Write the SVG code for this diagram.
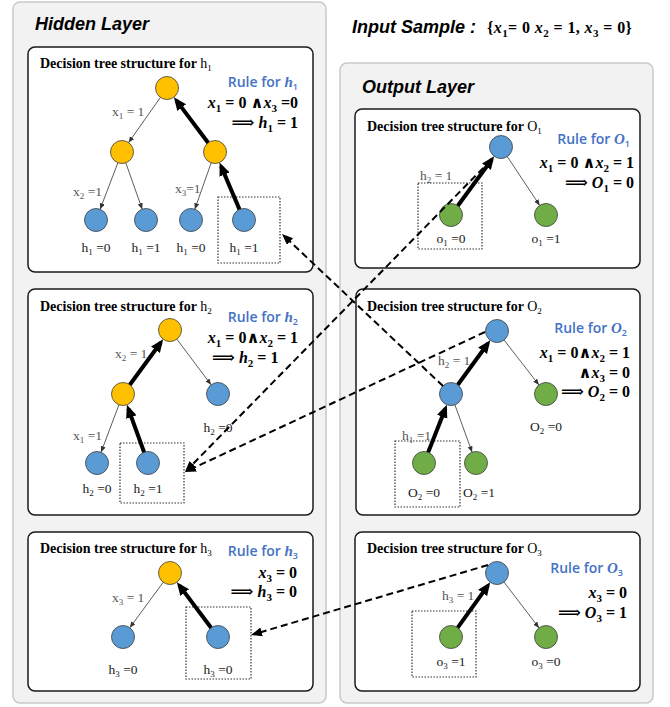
<svg xmlns="http://www.w3.org/2000/svg" width="670" height="707" viewBox="0 0 670 707">
<style>
.panel{fill:#f2f2f2;stroke:#c9c9c9;stroke-width:1.5}
.box{fill:#fff;stroke:#1a1a1a;stroke-width:1.5}
.sel{fill:none;stroke:#333;stroke-width:1.2;stroke-dasharray:1.5 1.5}
.or{fill:#FFC000;stroke:#404040;stroke-width:0.8}
.bl{fill:#5B9BD5;stroke:#404040;stroke-width:0.8}
.gr{fill:#70AD47;stroke:#404040;stroke-width:0.8}
.thin{stroke:#333;stroke-width:0.8;fill:none;marker-end:url(#aThin)}
.thick{stroke:#000;stroke-width:4;fill:none;marker-end:url(#aThick)}
.dash{stroke:#000;stroke-width:2;fill:none;stroke-dasharray:7 4;marker-end:url(#aDash)}
.layer{font-family:"Liberation Sans",Arial,sans-serif;font-weight:bold;font-style:italic;font-size:18px;fill:#000}
.ttl{font-family:"Liberation Serif","Times New Roman",serif;font-weight:bold;font-size:14px;fill:#000}
.n{font-weight:normal}
.rule{font-family:"Open Sans","Liberation Sans",sans-serif;font-weight:600;font-size:14px;fill:#4472C4}
.math{font-family:"Liberation Serif","DejaVu Serif",serif;font-weight:bold;font-size:16px;fill:#000}
.v{font-style:italic;font-weight:bold}
.lbl{font-family:"Liberation Serif","Times New Roman",serif;font-size:13.5px;fill:#222}
.el{font-family:"Liberation Serif","Times New Roman",serif;font-size:13.5px;fill:#555}
.s{font-size:9px;baseline-shift:-3px}
.sm{font-size:11px;baseline-shift:-4px}
</style>
<defs>
<marker id="aThin" markerUnits="userSpaceOnUse" markerWidth="7" markerHeight="6" refX="6" refY="2.5" orient="auto"><path d="M0,0 L6,2.5 L0,5 z" fill="#333"/></marker>
<marker id="aThick" markerUnits="userSpaceOnUse" markerWidth="14" markerHeight="12" refX="9" refY="5.5" orient="auto"><path d="M0,0 L13,5.5 L0,11 z" fill="#000"/></marker>
<marker id="aDash" markerUnits="userSpaceOnUse" markerWidth="12" markerHeight="10" refX="8" refY="4.5" orient="auto"><path d="M0,0 L11,4.5 L0,9 z" fill="#000"/></marker>
</defs>

<g id="hidden-layer">
<rect class="panel" x="13" y="2" width="313" height="701" rx="7"/>
<text class="layer" x="35" y="30">Hidden Layer</text>
</g>
<g id="output-layer">
<rect class="panel" x="340" y="63" width="313" height="640" rx="7"/>
<text class="layer" x="362" y="93">Output Layer</text>
</g>
<g id="input-sample">
<text class="layer" x="352" y="33">Input Sample :</text>
<text class="math" x="487" y="33" letter-spacing="0.4">{<tspan class="v">x</tspan><tspan class="sm">1</tspan>= 0 <tspan class="v">x</tspan><tspan class="sm">2</tspan> = 1, <tspan class="v">x</tspan><tspan class="sm">3</tspan> = 0}</text>
</g>

<!-- h1 -->
<g id="tree-h1">
<rect class="box" x="28" y="47" width="285" height="225" rx="7"/>
<text class="ttl" x="40" y="68">Decision tree structure for <tspan class="n">h</tspan><tspan class="n s">1</tspan></text>
<text class="rule" x="298" y="87" text-anchor="end">Rule for <tspan class="v" font-family="Liberation Serif,serif" font-size="15">h</tspan><tspan class="s">1</tspan></text>
<text class="math" x="298" y="108" text-anchor="end"><tspan class="v">x</tspan><tspan class="sm">1</tspan> = 0 ∧<tspan class="v">x</tspan><tspan class="sm">3</tspan> =0</text>
<text class="math" x="298" y="128" text-anchor="end">⟹ <tspan class="v">h</tspan><tspan class="sm">1</tspan> = 1</text>
<text class="el" x="112" y="116">x<tspan class="s">1</tspan> = 1</text>
<text class="el" x="73" y="196">x<tspan class="s">2</tspan> =1</text>
<text class="el" x="175" y="193">x<tspan class="s">3</tspan>=1</text>
<rect class="sel" x="218" y="197" width="62" height="66"/>
<g id="h1-root"><circle class="or" cx="167" cy="88" r="11.5"/></g>
<g id="h1-n1"><circle class="or" cx="122" cy="152" r="11.5"/></g>
<g id="h1-n2"><circle class="or" cx="215" cy="152" r="11.5"/></g>
<g id="h1-l1"><circle class="bl" cx="96" cy="220" r="11.5"/><text class="lbl" x="96" y="252" text-anchor="middle">h<tspan class="s">1</tspan> =0</text></g>
<g id="h1-l2"><circle class="bl" cx="146" cy="220" r="11.5"/><text class="lbl" x="146" y="252" text-anchor="middle">h<tspan class="s">1</tspan> =1</text></g>
<g id="h1-l3"><circle class="bl" cx="191" cy="220" r="11.5"/><text class="lbl" x="191" y="252" text-anchor="middle">h<tspan class="s">1</tspan> =0</text></g>
<g id="h1-l4"><circle class="bl" cx="244" cy="220" r="11.5"/><text class="lbl" x="244" y="252" text-anchor="middle">h<tspan class="s">1</tspan> =1</text></g>
</g>

<!-- h2 -->
<g id="tree-h2">
<rect class="box" x="28" y="289" width="285" height="226" rx="7"/>
<text class="ttl" x="40" y="311">Decision tree structure for <tspan class="n">h</tspan><tspan class="n s">2</tspan></text>
<text class="rule" x="298" y="322" text-anchor="end">Rule for <tspan class="v" font-family="Liberation Serif,serif" font-size="15">h</tspan><tspan class="s">2</tspan></text>
<text class="math" x="298" y="343" text-anchor="end"><tspan class="v">x</tspan><tspan class="sm">1</tspan> = 0∧<tspan class="v">x</tspan><tspan class="sm">2</tspan> = 1</text>
<text class="math" x="212" y="363">⟹ <tspan class="v">h</tspan><tspan class="sm">2</tspan> = 1</text>
<text class="el" x="115" y="358">x<tspan class="s">2</tspan> = 1</text>
<text class="el" x="73" y="440">x<tspan class="s">1</tspan> =1</text>
<rect class="sel" x="120" y="443" width="64" height="60"/>
<g id="h2-root"><circle class="or" cx="170" cy="330" r="11.5"/></g>
<g id="h2-n1"><circle class="or" cx="123" cy="394" r="11.5"/></g>
<g id="h2-l3"><circle class="bl" cx="218" cy="394" r="11.5"/><text class="lbl" x="218" y="432" text-anchor="middle">h<tspan class="s">2</tspan> =0</text></g>
<g id="h2-l1"><circle class="bl" cx="97" cy="463" r="11.5"/><text class="lbl" x="97" y="493" text-anchor="middle">h<tspan class="s">2</tspan> =0</text></g>
<g id="h2-l2"><circle class="bl" cx="148" cy="463" r="11.5"/><text class="lbl" x="148" y="493" text-anchor="middle">h<tspan class="s">2</tspan> =1</text></g>
</g>

<!-- h3 -->
<g id="tree-h3">
<rect class="box" x="28" y="532" width="285" height="159" rx="7"/>
<text class="ttl" x="40" y="553">Decision tree structure for <tspan class="n">h</tspan><tspan class="n s">3</tspan></text>
<text class="rule" x="298" y="556" text-anchor="end">Rule for <tspan class="v" font-family="Liberation Serif,serif" font-size="15">h</tspan><tspan class="s">3</tspan></text>
<text class="math" x="297" y="578" text-anchor="end"><tspan class="v">x</tspan><tspan class="sm">3</tspan> = 0</text>
<text class="math" x="297" y="597" text-anchor="end">⟹ <tspan class="v">h</tspan><tspan class="sm">3</tspan> = 0</text>
<text class="el" x="112" y="602">x<tspan class="s">3</tspan> = 1</text>
<rect class="sel" x="186" y="607" width="65" height="72"/>
<g id="h3-root"><circle class="or" cx="170" cy="573" r="11.5"/></g>
<g id="h3-l1"><circle class="bl" cx="123" cy="637" r="11.5"/><text class="lbl" x="123" y="674" text-anchor="middle">h<tspan class="s">3</tspan> =0</text></g>
<g id="h3-l2"><circle class="bl" cx="218" cy="637" r="11.5"/><text class="lbl" x="218" y="674" text-anchor="middle">h<tspan class="s">3</tspan> =0</text></g>
</g>

<!-- O1 -->
<g id="tree-o1">
<rect class="box" x="355" y="109" width="285" height="159" rx="7"/>
<text class="ttl" x="367" y="131">Decision tree structure for <tspan class="n">O</tspan><tspan class="n s">1</tspan></text>
<text class="rule" x="630" y="144" text-anchor="end">Rule for <tspan class="v" font-family="Liberation Serif,serif" font-size="15">O</tspan><tspan class="s">1</tspan></text>
<text class="math" x="634" y="168" text-anchor="end"><tspan class="v">x</tspan><tspan class="sm">1</tspan> = 0 ∧<tspan class="v">x</tspan><tspan class="sm">2</tspan> = 1</text>
<text class="math" x="634" y="188" text-anchor="end">⟹ <tspan class="v">O</tspan><tspan class="sm">1</tspan> = 0</text>
<text class="el" x="420" y="180">h<tspan class="s">2</tspan> = 1</text>
<rect class="sel" x="418" y="183" width="64" height="66"/>
<g id="o1-root"><circle class="bl" cx="501" cy="147" r="11.5"/></g>
<g id="o1-l1"><circle class="gr" cx="451" cy="215" r="11.5"/><text class="lbl" x="451" y="243" text-anchor="middle">o<tspan class="s">1</tspan> =0</text></g>
<g id="o1-l2"><circle class="gr" cx="546" cy="215" r="11.5"/><text class="lbl" x="546" y="243" text-anchor="middle">o<tspan class="s">1</tspan> =1</text></g>
</g>

<!-- O2 -->
<g id="tree-o2">
<rect class="box" x="356" y="289" width="284" height="226" rx="7"/>
<text class="ttl" x="367" y="311">Decision tree structure for <tspan class="n">O</tspan><tspan class="n s">2</tspan></text>
<text class="rule" x="627" y="333" text-anchor="end">Rule for <tspan class="v" font-family="Liberation Serif,serif" font-size="15">O</tspan><tspan class="s">2</tspan></text>
<text class="math" x="630" y="358" text-anchor="end"><tspan class="v">x</tspan><tspan class="sm">1</tspan> = 0∧<tspan class="v">x</tspan><tspan class="sm">2</tspan> = 1</text>
<text class="math" x="630" y="378" text-anchor="end">∧<tspan class="v">x</tspan><tspan class="sm">3</tspan> = 0</text>
<text class="math" x="630" y="397" text-anchor="end">⟹ <tspan class="v">O</tspan><tspan class="sm">2</tspan> = 0</text>
<text class="el" x="438" y="365">h<tspan class="s">2</tspan> = 1</text>
<text class="el" x="402" y="440">h<tspan class="s">1</tspan> =1</text>
<rect class="sel" x="395" y="441" width="65" height="66"/>
<g id="o2-root"><circle class="bl" cx="497" cy="331" r="11.5"/></g>
<g id="o2-n1"><circle class="bl" cx="451" cy="394" r="11.5"/></g>
<g id="o2-l3"><circle class="gr" cx="546" cy="394" r="11.5"/><text class="lbl" x="546" y="431" text-anchor="middle">O<tspan class="s">2</tspan> =0</text></g>
<g id="o2-l1"><circle class="gr" cx="424" cy="463" r="11.5"/><text class="lbl" x="424" y="497" text-anchor="middle">O<tspan class="s">2</tspan> =0</text></g>
<g id="o2-l2"><circle class="gr" cx="476" cy="463" r="11.5"/><text class="lbl" x="479" y="497" text-anchor="middle">O<tspan class="s">2</tspan> =1</text></g>
</g>

<!-- O3 -->
<g id="tree-o3">
<rect class="box" x="355" y="532" width="285" height="159" rx="7"/>
<text class="ttl" x="367" y="553">Decision tree structure for <tspan class="n">O</tspan><tspan class="n s">3</tspan></text>
<text class="rule" x="623" y="573" text-anchor="end">Rule for <tspan class="v" font-family="Liberation Serif,serif" font-size="15">O</tspan><tspan class="s">3</tspan></text>
<text class="math" x="627" y="598" text-anchor="end"><tspan class="v">x</tspan><tspan class="sm">3</tspan> = 0</text>
<text class="math" x="627" y="618" text-anchor="end">⟹ <tspan class="v">O</tspan><tspan class="sm">3</tspan> = 1</text>
<text class="el" x="442" y="600">h<tspan class="s">3</tspan> = 1</text>
<rect class="sel" x="412" y="611" width="64" height="66"/>
<g id="o3-root"><circle class="bl" cx="497" cy="573" r="11.5"/></g>
<g id="o3-l1"><circle class="gr" cx="451" cy="637" r="11.5"/><text class="lbl" x="451" y="666" text-anchor="middle">o<tspan class="s">3</tspan> =1</text></g>
<g id="o3-l2"><circle class="gr" cx="546" cy="637" r="11.5"/><text class="lbl" x="546" y="666" text-anchor="middle">o<tspan class="s">3</tspan> =0</text></g>
</g>

<g id="connectors">
<!-- h1 -->
<line class="thin" x1="160.4" y1="97.4" x2="128.6" y2="142.6"/>
<line class="thin" x1="117.9" y1="162.7" x2="100.1" y2="209.3"/>
<line class="thin" x1="125.8" y1="162.8" x2="142.2" y2="209.2"/>
<line class="thin" x1="211.2" y1="162.8" x2="194.8" y2="209.2"/>
<line class="thick" x1="239.5" y1="209.4" x2="221.1" y2="166.3"/>
<line class="thick" x1="208.1" y1="142.8" x2="176.3" y2="100.4"/>
<!-- h2 -->
<line class="thick" x1="129.8" y1="384.7" x2="160.8" y2="342.5"/>
<line class="thin" x1="176.9" y1="339.2" x2="211.1" y2="384.8"/>
<line class="thin" x1="118.9" y1="404.8" x2="101.1" y2="452.2"/>
<line class="thick" x1="144.1" y1="452.2" x2="128.3" y2="408.6"/>
<!-- h3 -->
<line class="thin" x1="163.2" y1="582.3" x2="129.8" y2="627.7"/>
<line class="thick" x1="211.1" y1="627.8" x2="179.3" y2="585.4"/>
<!-- O1 -->
<line class="thick" x1="457.8" y1="205.7" x2="491.8" y2="159.5"/>
<line class="thin" x1="507.3" y1="156.6" x2="539.7" y2="205.4"/>
<!-- O2 -->
<line class="thick" x1="457.8" y1="384.7" x2="487.9" y2="343.5"/>
<line class="thin" x1="504.1" y1="340.1" x2="538.9" y2="384.9"/>
<line class="thick" x1="428.2" y1="452.3" x2="445.4" y2="408.4"/>
<line class="thin" x1="454.9" y1="404.8" x2="472.1" y2="452.2"/>
<!-- O3 -->
<line class="thick" x1="457.7" y1="627.7" x2="487.9" y2="585.6"/>
<line class="thin" x1="504" y1="582.1" x2="539" y2="627.9"/>
<!-- cross-layer dashed -->
<line class="dash" x1="443" y1="386" x2="284.2" y2="236.1"/>
<line class="dash" x1="491" y1="160" x2="187.1" y2="469.9"/>
<line class="dash" x1="485" y1="332" x2="187.7" y2="470.7"/>
<line class="dash" x1="488" y1="565" x2="253.9" y2="634.2"/>
</g>
</svg>
